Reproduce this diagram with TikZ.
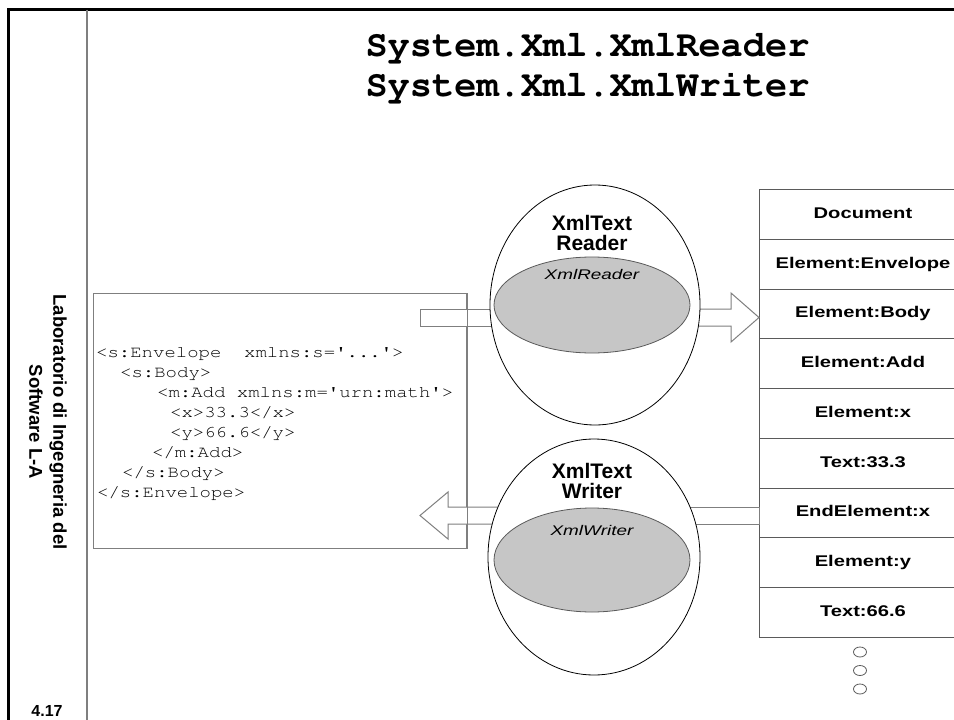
\documentclass[tikz,border=0pt]{standalone}
\usepackage[T1]{fontenc}
\usepackage{fontspec}
\usepackage{graphicx}
\setmainfont{Liberation Sans}
\newcommand\courierfont{\fontencoding{T1}\fontfamily{pcr}\selectfont}
\newcommand\sq{\textquotesingle}
\newfontfamily\widesans{Liberation Sans}[FakeStretch=1.3]
\newfontfamily\ifacefont{Liberation Sans}[FakeStretch=1.35]
\usetikzlibrary{shapes.geometric}
\definecolor{linegray}{HTML}{7F7F7F}
\definecolor{stackgray}{HTML}{5A5A5A}
\definecolor{innerfill}{HTML}{C6C6C6}
\newcommand\codetext[1]{\scalebox{1.15}[1]{#1}}
\begin{document}
\begin{tikzpicture}[x=1pt,y=-1pt,
  frameline/.style={line width=3pt,black},
  sepline/.style={line width=1.2pt,linegray},
  titletext/.style={anchor=base,inner sep=0,font=\courierfont\bfseries\fontsize{37}{40}\selectfont},
  codeline/.style={anchor=base west,inner sep=0,font=\courierfont\fontsize{16.5}{20}\selectfont},
  xmlbox/.style={draw=linegray,line width=1pt},
  blockarrow/.style={draw=linegray,line width=1pt,fill=white},
  outerell/.style={ellipse,draw=black,fill=white,line width=0.8pt,inner sep=0},
  innerell/.style={ellipse,draw=stackgray,fill=innerfill,line width=0.8pt,inner sep=0},
  classlabel/.style={align=center,inner sep=0,font=\bfseries\fontsize{21}{20}\selectfont},
  ifacelabel/.style={inner sep=0,font=\ifacefont\itshape\fontsize{14}{16}\selectfont},
  stackrow/.style={draw=stackgray,line width=0.9pt,anchor=north west,minimum width=207pt,
     minimum height=49.75pt,inner sep=0,text height=11pt,text depth=3pt,
     font=\widesans\bfseries\fontsize{15.5}{18}\selectfont},
  dotell/.style={ellipse,draw=stackgray,line width=0.8pt,minimum width=13pt,minimum height=10pt,inner sep=0}
]
\useasboundingbox (0,0) rectangle (954,720);
\clip (0,0) rectangle (954,720);
\fill[white] (0,0) rectangle (954,720);

% frame
\draw[frameline] (8,722) -- (8,9.5) -- (956,9.5);
\draw[sepline] (87,9.5) -- (87,722);

% sidebar
\node[rotate=-90,align=center,inner sep=0,font=\bfseries\fontsize{18.5}{24}\selectfont] (side) at (48,422) {Laboratorio di Ingegneria del\\Software L-A};
\node[inner sep=0,font=\bfseries\fontsize{16}{18}\selectfont] (page) at (47,711) {4.17};

% title
\node[titletext] (title1) at (587.5,56.5) {System.Xml.XmlReader};
\node[titletext] (title2) at (587.5,96.5) {System.Xml.XmlWriter};

% xml document box
\node[xmlbox,minimum width=373pt,minimum height=255pt,anchor=north west,inner sep=0] (xml) at (93,293) {};
\node[codeline] (c1) at (96,357) {\codetext{<s:Envelope\ \ xmlns:s=\sq...\sq>}};
\node[codeline] (c2) at (120,377) {\codetext{<s:Body>}};
\node[codeline] (c3) at (157,397) {\codetext{<m:Add xmlns:m=\sq urn:math\sq>}};
\node[codeline] (c4) at (170,417) {\codetext{<x>33.3</x>}};
\node[codeline] (c5) at (170,437) {\codetext{<y>66.6</y>}};
\node[codeline] (c6) at (152,457) {\codetext{</m:Add>}};
\node[codeline] (c7) at (122,477) {\codetext{</s:Body>}};
\node[codeline] (c8) at (97,497) {\codetext{</s:Envelope>}};

% stack of nodes
\foreach \t [count=\k from 0] in {Document,Element:Envelope,Element:Body,Element:Add,Element:x,Text:33.3,EndElement:x,Element:y,Text:66.6}{
  \node[stackrow] (row\k) at (759,{189+49.75*\k}) {\t};
}
\node[dotell] (dot1) at (860,652) {};
\node[dotell] (dot2) at (860,670.5) {};
\node[dotell] (dot3) at (860,689) {};

% arrows (behind ellipses)
\draw[blockarrow] (420,309) rectangle (540,326);
\draw[blockarrow] (650,309) -- (731,309) -- (731,293) -- (row2.west |- 0,317.5) -- (731,342) -- (731,326) -- (650,326) -- cycle;
\draw[blockarrow] (row6.west |- 0,507) -- (650,507) -- (650,524) -- (row6.west |- 0,524) -- cycle;
\draw[blockarrow] (540,507) -- (448,507) -- (448,492) -- (420,515.5) -- (448,539) -- (448,524) -- (540,524) -- cycle;
\draw[xmlbox] (xml.north east) -- (xml.south east);

% reader
\node[outerell,minimum width=210pt,minimum height=240pt] (reader) at (595,305) {};
\node[innerell,minimum width=196pt,minimum height=96pt] (rcore) at (592,305) {};
\node[classlabel] (rlabel) at (592,233) {XmlText\\Reader};
\node[ifacelabel] (rface) at (592,274) {XmlReader};

% writer
\node[outerell,minimum width=212pt,minimum height=236pt] (writer) at (594,557) {};
\node[innerell,minimum width=196pt,minimum height=104pt] (wcore) at (592,560) {};
\node[classlabel] (wlabel) at (592,481) {XmlText\\Writer};
\node[ifacelabel] (wface) at (592,530) {XmlWriter};
\end{tikzpicture}
\end{document}
